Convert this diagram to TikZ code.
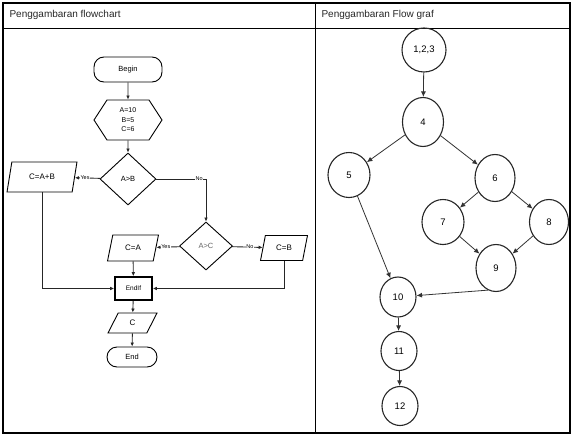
\documentclass[tikz,border=0pt]{standalone}
\usepackage{fontspec}
\setmainfont{Liberation Sans}
\usepackage{tikz}
\usetikzlibrary{shapes.geometric,shapes.symbols,arrows.meta}

\begin{document}
\begin{tikzpicture}[x=1pt,y=-1pt,
  flow/.style={draw=black!85,line width=0.9pt,-{Latex[length=4pt,width=3.6pt]}},
  term/.style={draw,line width=0.9pt,rectangle,rounded corners=10pt,font=\fontsize{7.5}{8}\selectfont},
  hexa/.style={draw,line width=0.9pt,signal,signal to=east and west,signal pointer angle=114,
    align=center,inner sep=1pt,font=\fontsize{7}{9.5}\selectfont},
  decis/.style={draw,line width=0.9pt,diamond,inner sep=0pt,font=\fontsize{7.5}{8}\selectfont},
  io/.style={draw,line width=0.9pt,trapezium,trapezium left angle=70,trapezium right angle=110,
    trapezium stretches=true,inner sep=0pt,font=\fontsize{8}{9}\selectfont},
  lbl/.style={fill=white,inner sep=0.5pt,font=\fontsize{5.5}{6}\selectfont},
  vtx/.style={draw=black!85,line width=1.1pt,ellipse,inner sep=0pt,minimum width=41pt,
    minimum height=46pt,font=\fontsize{9.5}{10}\selectfont},
  arc/.style={draw=black!80,line width=0.8pt,-{Latex[length=5.5pt,width=5pt]}}]
\useasboundingbox (0,0) rectangle (573,436);

% table
\draw[line width=1.3pt] (3,3) rectangle (570,433);
\draw[line width=1pt] (3,29) -- (570,29);
\draw[line width=1pt] (315,3) -- (315,433);
\node[anchor=west,font=\fontsize{10}{11}\selectfont,text=black!85] (hdrA) at (6,15) {Penggambaran flowchart};
\node[anchor=west,font=\fontsize{10}{11}\selectfont,text=black!85] (hdrB) at (318,15) {Penggambaran Flow graf};

% flowchart
\node[term,minimum width=68pt,minimum height=25pt] (begin) at (128,69.5) {Begin};
\node[hexa,minimum width=68pt,minimum height=40pt] (init) at (128,120) {A=10\\B=5\\C=6};
\node[decis,minimum width=56pt,minimum height=52pt] (ab) at (128,179) {A>B};
\node[io,minimum width=70pt,minimum height=30pt] (cab) at (42,177) {C=A+B};
\node[decis,minimum width=53pt,minimum height=48pt,text=black!60] (ac) at (206,246) {A>C};
\node[io,minimum width=51pt,minimum height=26pt] (ca) at (133,248) {C=A};
\node[io,minimum width=47pt,minimum height=25pt] (cb) at (284,248) {C=B};
\node[draw,line width=1.6pt,minimum width=37pt,minimum height=23pt,font=\fontsize{6.5}{7}\selectfont] (endif) at (133.5,288.5) {EndIf};
\node[io,minimum width=49pt,minimum height=20pt] (outc) at (132.5,323) {C};
\node[term,minimum width=50pt,minimum height=20pt] (fin) at (132,357) {End};

\draw[flow] (begin) -- (init);
\draw[flow] (init) -- (ab);
\draw[flow] (ab) -- node[lbl,pos=0.6] {Yes} (cab);
\draw[flow] (ab.east) -| node[lbl,pos=0.43] {No} (ac.north);
\draw[flow] (ac) -- node[lbl,pos=0.6] {Yes} (ca);
\draw[flow] (ac) -- node[lbl,pos=0.58] {No} (cb);
\draw[flow] (ca) -- (endif);
\draw[flow] (cab.south) |- (endif.west);
\draw[flow] (cb.south) |- (endif.east);
\draw[flow] (endif) -- (outc);
\draw[flow] (outc) -- (fin);

% flow graph
\node[vtx,minimum width=44pt,minimum height=44pt] (n123) at (424,50) {1,2,3};
\node[vtx,minimum height=49pt] (n4) at (423,122) {4};
\node[vtx,minimum width=42pt,minimum height=45pt] (n5) at (349,175) {5};
\node[vtx,minimum width=40pt,minimum height=47pt] (n6) at (495,178) {6};
\node[vtx,minimum width=42pt,minimum height=45pt] (n7) at (443,222) {7};
\node[vtx,minimum width=39pt,minimum height=45pt] (n8) at (549,222) {8};
\node[vtx,minimum width=40pt,minimum height=47pt] (n9) at (496,268) {9};
\node[vtx,minimum width=36pt,minimum height=40pt] (n10) at (398,297) {10};
\node[vtx,minimum width=36pt,minimum height=39pt] (n11) at (399,351) {11};
\node[vtx,minimum width=36pt,minimum height=39pt] (n12) at (400,406) {12};

\draw[arc] (n123) -- (n4);
\draw[arc] (n4) -- (n5);
\draw[arc] (n4) -- (n6);
\draw[arc] (n6) -- (n7);
\draw[arc] (n6) -- (n8);
\draw[arc] (n7) -- (n9);
\draw[arc] (n8) -- (n9);
\draw[arc] (n5) -- (n10);
\draw[arc] (n9.250) -- (n10);
\draw[arc] (n10) -- (n11);
\draw[arc] (n11) -- (n12);
\end{tikzpicture}
\end{document}
